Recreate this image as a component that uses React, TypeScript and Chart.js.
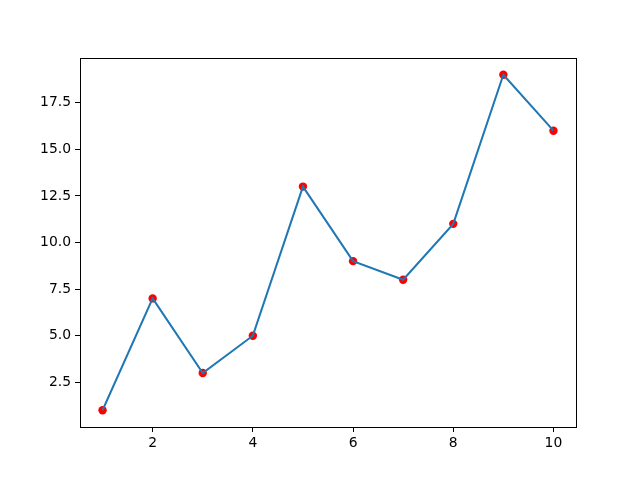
import React, { useEffect, useRef } from "react";
import { Chart, registerables } from "chart.js";

Chart.register(...registerables);

const xValues = [1, 2, 3, 4, 5, 6, 7, 8, 9, 10];
const yValues = [1, 7, 3, 5, 13, 9, 8, 11, 19, 16];
const xTicks = [2, 4, 6, 8, 10];
const yTicks = [2.5, 5.0, 7.5, 10.0, 12.5, 15.0, 17.5];

const boxPlugin = {
  id: "box",
  afterDatasetsDraw(chart: any) {
    const { ctx, chartArea } = chart;
    ctx.save();
    ctx.strokeStyle = "#000";
    ctx.lineWidth = 1;
    ctx.strokeRect(
      Math.round(chartArea.left) + 0.5,
      Math.round(chartArea.top) + 0.5,
      Math.round(chartArea.right - chartArea.left),
      Math.round(chartArea.bottom - chartArea.top)
    );
    ctx.restore();
  },
};

export default function App() {
  const ref = useRef<HTMLCanvasElement>(null);
  useEffect(() => {
    const pts = xValues.map((x, i) => ({ x, y: yValues[i] }));
    const font = { family: "DejaVu Sans", size: 13.9 };
    const chart = new Chart(ref.current!, {
      type: "scatter",
      data: {
        datasets: [
          {
            type: "line",
            data: pts,
            borderColor: "#1f77b4",
            borderWidth: 2,
            pointRadius: 0,
            fill: false,
            tension: 0,
            order: 0,
          } as any,
          {
            type: "scatter",
            data: pts,
            backgroundColor: "#ff0000",
            borderColor: "#ff0000",
            borderWidth: 0,
            pointRadius: 4.2,
            order: 1,
          },
        ],
      },
      options: {
        responsive: false,
        animation: false,
        layout: { padding: { left: 0, right: 64, top: 58, bottom: 0 } },
        plugins: { legend: { display: false }, tooltip: { enabled: false } },
        scales: {
          x: {
            type: "linear",
            min: 0.55,
            max: 10.45,
            afterBuildTicks: (s: any) => {
              s.ticks = xTicks.map((v) => ({ value: v }));
            },
            afterFit: (s: any) => {
              s.height = 53;
            },
            grid: {
              drawOnChartArea: false,
              drawTicks: true,
              tickLength: 5,
              color: "#000",
            },
            border: { display: false },
            ticks: {
              color: "#000",
              font,
              padding: 3,
              maxRotation: 0,
              callback: (v: any) => String(v),
            },
          },
          y: {
            type: "linear",
            min: 0.1,
            max: 19.9,
            afterBuildTicks: (s: any) => {
              s.ticks = yTicks.map((v) => ({ value: v }));
            },
            afterFit: (s: any) => {
              s.width = 80;
            },
            grid: {
              drawOnChartArea: false,
              drawTicks: true,
              tickLength: 5,
              color: "#000",
            },
            border: { display: false },
            ticks: {
              color: "#000",
              font,
              padding: 4,
              callback: (v: any) => Number(v).toFixed(1),
            },
          },
        },
      },
      plugins: [boxPlugin],
    });
    return () => chart.destroy();
  }, []);
  return (
    <div style={{ position: "fixed", left: 0, top: 0, width: 640, height: 480, background: "#fff" }}>
      <canvas ref={ref} width={640} height={480} />
    </div>
  );
}
